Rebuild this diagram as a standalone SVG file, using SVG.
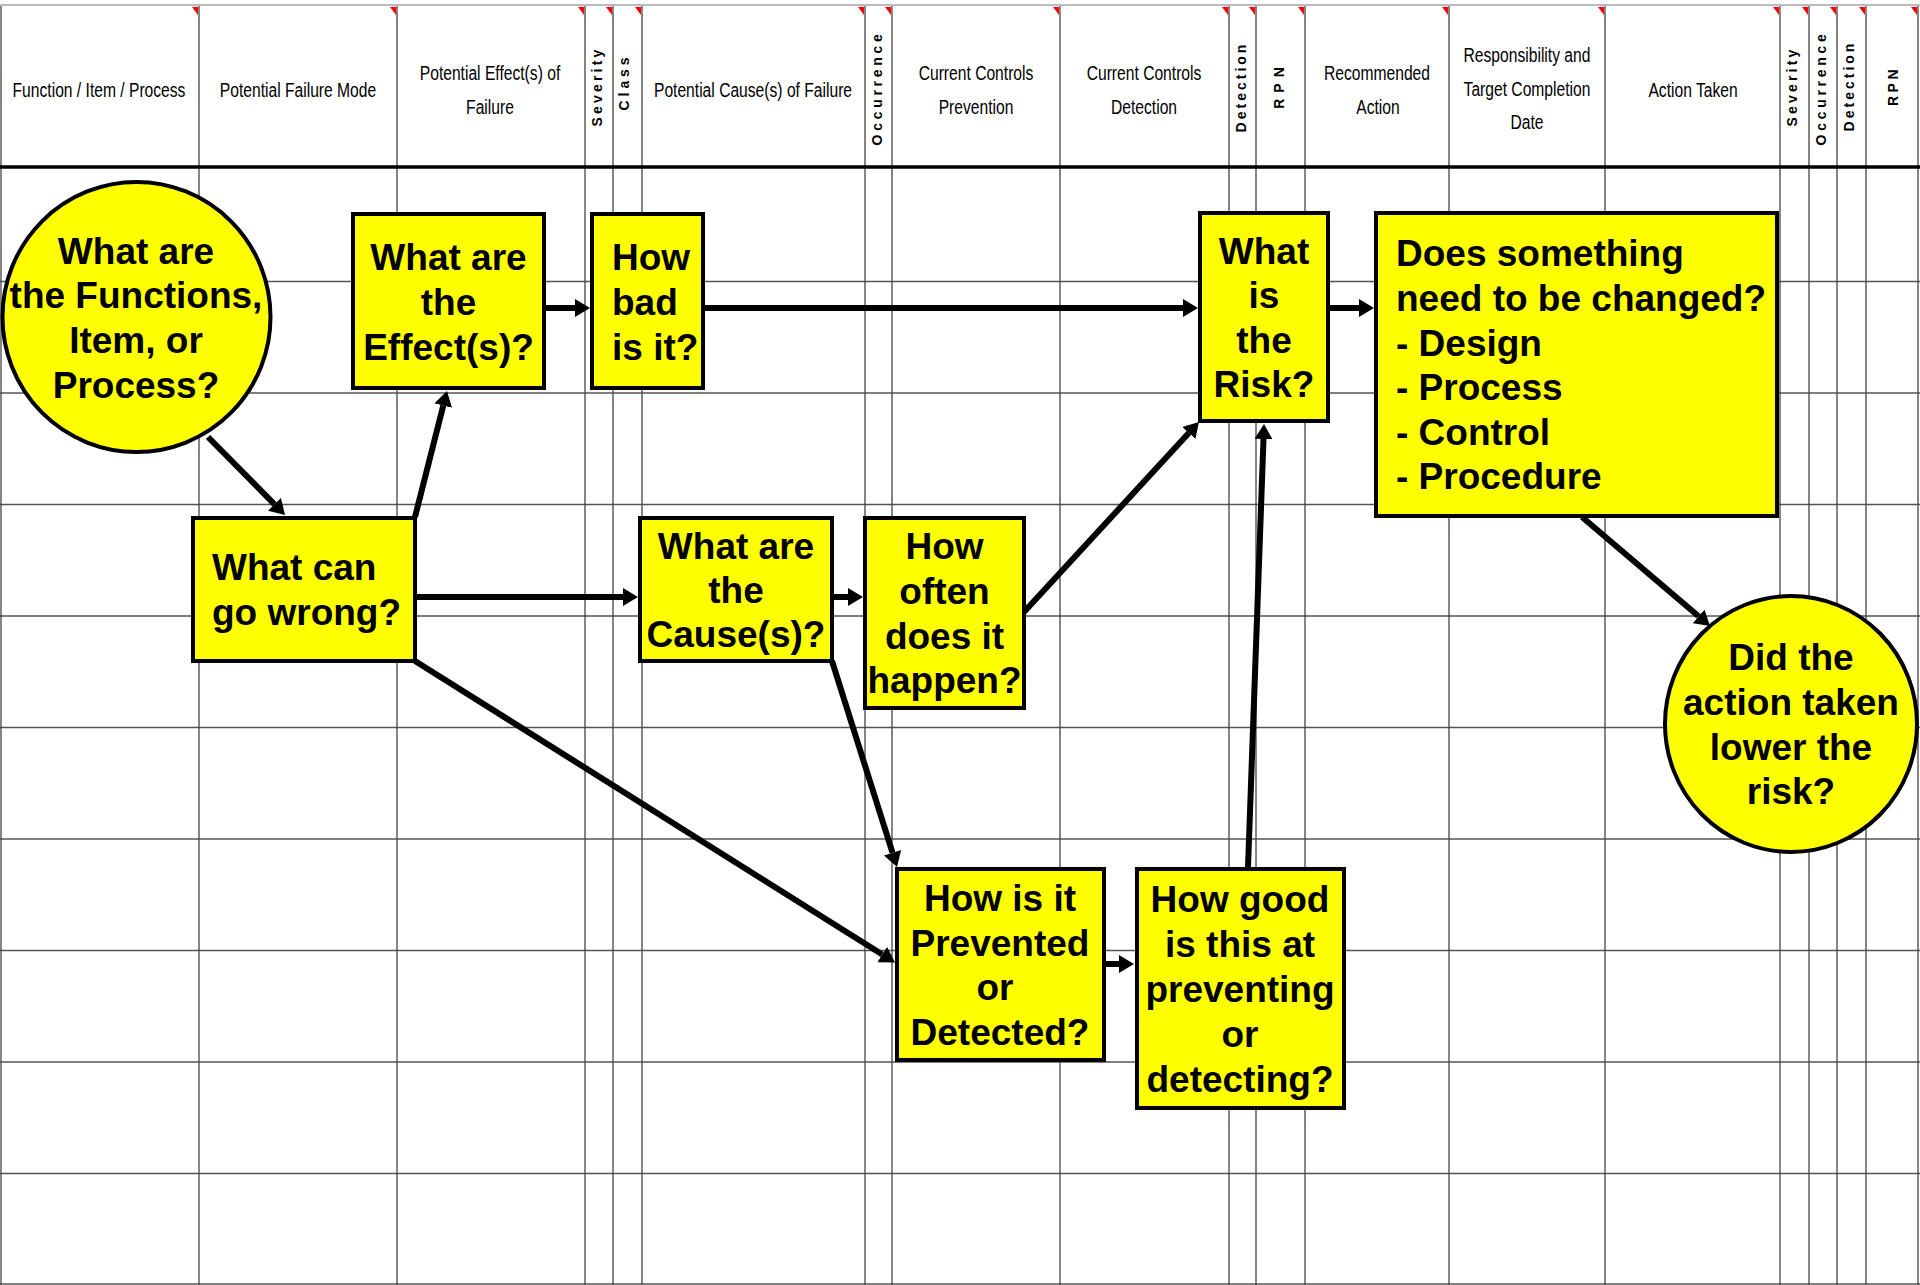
<svg xmlns="http://www.w3.org/2000/svg" width="1920" height="1285" viewBox="0 0 1920 1285">
  <style>
    .hdr { font-family: "Liberation Sans", Arial, sans-serif; font-size: 21px; fill: #000; text-anchor: middle; }
    .vhdr { font-family: "Liberation Sans", Arial, sans-serif; font-size: 14px; font-weight: bold; fill: #000; text-anchor: middle; }
    .q { font-family: "Liberation Sans", Arial, sans-serif; font-size: 37px; font-weight: bold; fill: #000; }
    .mid { text-anchor: middle; }
    .node { fill: #ffff00; stroke: #000; stroke-width: 4; }
    .hline { stroke: #555; stroke-width: 1.6; }
    .vline { stroke: #444; stroke-width: 1.3; }
    .flag { fill: #ff0000; }
    .conn { stroke: #000; stroke-width: 6; fill: none; marker-end: url(#head); }
  </style>
  <defs>
    <marker id="head" markerUnits="userSpaceOnUse" markerWidth="15" markerHeight="18" refX="0" refY="9" orient="auto">
      <path d="M0,0 L15,9 L0,18 Z" fill="#000"/>
    </marker>
  </defs>

  <rect x="0" y="0" width="1920" height="1285" fill="#fff"/>

  <!-- worksheet grid -->
  <g id="grid">
    <line x1="0" y1="5" x2="1920" y2="5" stroke="#bbb" stroke-width="2"/>
    <g class="hline">
      <line x1="0" y1="281.5" x2="1920" y2="281.5"/>
      <line x1="0" y1="393" x2="1920" y2="393"/>
      <line x1="0" y1="504.5" x2="1920" y2="504.5"/>
      <line x1="0" y1="616" x2="1920" y2="616"/>
      <line x1="0" y1="727.5" x2="1920" y2="727.5"/>
      <line x1="0" y1="839" x2="1920" y2="839"/>
      <line x1="0" y1="950.5" x2="1920" y2="950.5"/>
      <line x1="0" y1="1062" x2="1920" y2="1062"/>
      <line x1="0" y1="1173.5" x2="1920" y2="1173.5"/>
      <line x1="0" y1="1284" x2="1920" y2="1284"/>
    </g>
    <g class="vline">
      <line x1="1" y1="6" x2="1" y2="1285"/>
      <line x1="199" y1="6" x2="199" y2="1285"/>
      <line x1="397" y1="6" x2="397" y2="1285"/>
      <line x1="585" y1="6" x2="585" y2="1285"/>
      <line x1="613" y1="6" x2="613" y2="1285"/>
      <line x1="642" y1="6" x2="642" y2="1285"/>
      <line x1="865" y1="6" x2="865" y2="1285"/>
      <line x1="892" y1="6" x2="892" y2="1285"/>
      <line x1="1060" y1="6" x2="1060" y2="1285"/>
      <line x1="1229" y1="6" x2="1229" y2="1285"/>
      <line x1="1256" y1="6" x2="1256" y2="1285"/>
      <line x1="1305" y1="6" x2="1305" y2="1285"/>
      <line x1="1449" y1="6" x2="1449" y2="1285"/>
      <line x1="1605" y1="6" x2="1605" y2="1285"/>
      <line x1="1780" y1="6" x2="1780" y2="1285"/>
      <line x1="1809" y1="6" x2="1809" y2="1285"/>
      <line x1="1837" y1="6" x2="1837" y2="1285"/>
      <line x1="1866" y1="6" x2="1866" y2="1285"/>
      <line x1="1918" y1="6" x2="1918" y2="1285"/>
    </g>
    <line x1="0" y1="167" x2="1920" y2="167" stroke="#000" stroke-width="3.5"/>
    <!-- comment indicators -->
    <g class="flag">
      <polygon points="192,7 198,7 198,15"/>
      <polygon points="390,7 396,7 396,15"/>
      <polygon points="578,7 584,7 584,15"/>
      <polygon points="606,7 612,7 612,15"/>
      <polygon points="635,7 641,7 641,15"/>
      <polygon points="858,7 864,7 864,15"/>
      <polygon points="885,7 891,7 891,15"/>
      <polygon points="1053,7 1059,7 1059,15"/>
      <polygon points="1222,7 1228,7 1228,15"/>
      <polygon points="1249,7 1255,7 1255,15"/>
      <polygon points="1298,7 1304,7 1304,15"/>
      <polygon points="1442,7 1448,7 1448,15"/>
      <polygon points="1598,7 1604,7 1604,15"/>
      <polygon points="1773,7 1779,7 1779,15"/>
      <polygon points="1802,7 1808,7 1808,15"/>
      <polygon points="1830,7 1836,7 1836,15"/>
      <polygon points="1859,7 1865,7 1865,15"/>
      <polygon points="1911,7 1917,7 1917,15"/>
    </g>
  </g>

  <!-- column headings (condensed) -->
  <g id="headings">
    <text class="hdr" transform="translate(99,97) scale(0.745,1)">Function / Item / Process</text>
    <text class="hdr" transform="translate(298,97) scale(0.745,1)">Potential Failure Mode</text>
    <text class="hdr" transform="translate(490,80) scale(0.745,1)">Potential Effect(s) of</text>
    <text class="hdr" transform="translate(490,114) scale(0.745,1)">Failure</text>
    <text class="hdr" transform="translate(753,97) scale(0.745,1)">Potential Cause(s) of Failure</text>
    <text class="hdr" transform="translate(976,80) scale(0.745,1)">Current Controls</text>
    <text class="hdr" transform="translate(976,114) scale(0.745,1)">Prevention</text>
    <text class="hdr" transform="translate(1144,80) scale(0.745,1)">Current Controls</text>
    <text class="hdr" transform="translate(1144,114) scale(0.745,1)">Detection</text>
    <text class="hdr" transform="translate(1377,80) scale(0.745,1)">Recommended</text>
    <text class="hdr" transform="translate(1378,114) scale(0.745,1)">Action</text>
    <text class="hdr" transform="translate(1527,62) scale(0.745,1)">Responsibility and</text>
    <text class="hdr" transform="translate(1527,95.5) scale(0.745,1)">Target Completion</text>
    <text class="hdr" transform="translate(1527,129) scale(0.745,1)">Date</text>
    <text class="hdr" transform="translate(1693,97) scale(0.745,1)">Action Taken</text>

    <text class="vhdr" transform="translate(602,86.5) rotate(-90)" letter-spacing="3.2">Severity</text>
    <text class="vhdr" transform="translate(629,82) rotate(-90)" letter-spacing="3.9">Class</text>
    <text class="vhdr" transform="translate(882,88) rotate(-90)" letter-spacing="3.7">Occurrence</text>
    <text class="vhdr" transform="translate(1246,87) rotate(-90)" letter-spacing="3">Detection</text>
    <text class="vhdr" transform="translate(1283.5,85) rotate(-90)" letter-spacing="6">RPN</text>
    <text class="vhdr" transform="translate(1797,86.5) rotate(-90)" letter-spacing="3.2">Severity</text>
    <text class="vhdr" transform="translate(1825.5,88) rotate(-90)" letter-spacing="3.7">Occurrence</text>
    <text class="vhdr" transform="translate(1853.5,86) rotate(-90)" letter-spacing="3">Detection</text>
    <text class="vhdr" transform="translate(1897.5,86) rotate(-90)" letter-spacing="3.5">RPN</text>
  </g>

  <!-- question nodes -->
  <g id="functions">
    <ellipse class="node" cx="136.5" cy="317" rx="134" ry="135"/>
    <text class="q mid" x="136" y="264">What are</text>
    <text class="q mid" x="136" y="308">the Functions,</text>
    <text class="q mid" x="136" y="353">Item, or</text>
    <text class="q mid" x="136" y="398">Process?</text>
  </g>
  <g id="effects">
    <rect class="node" x="353" y="214" width="191" height="174"/>
    <text class="q mid" x="448.5" y="270">What are</text>
    <text class="q mid" x="448.5" y="315">the</text>
    <text class="q mid" x="448.5" y="360">Effect(s)?</text>
  </g>
  <g id="severity">
    <rect class="node" x="592" y="214" width="111" height="174"/>
    <text class="q" x="612" y="270">How</text>
    <text class="q" x="612" y="315">bad</text>
    <text class="q" x="612" y="360">is it?</text>
  </g>
  <g id="failure-mode">
    <rect class="node" x="193" y="518" width="222" height="143"/>
    <text class="q" x="212" y="580">What can</text>
    <text class="q" x="212" y="625">go wrong?</text>
  </g>
  <g id="causes">
    <rect class="node" x="640" y="518" width="192" height="143"/>
    <text class="q mid" x="736" y="559">What are</text>
    <text class="q mid" x="736" y="603">the</text>
    <text class="q mid" x="736" y="647">Cause(s)?</text>
  </g>
  <g id="occurrence">
    <rect class="node" x="865" y="518" width="159" height="190"/>
    <text class="q mid" x="944.5" y="559">How</text>
    <text class="q mid" x="944.5" y="604">often</text>
    <text class="q mid" x="944.5" y="649">does it</text>
    <text class="q mid" x="944.5" y="693">happen?</text>
  </g>
  <g id="controls">
    <rect class="node" x="897" y="869" width="207" height="191"/>
    <text class="q mid" x="1000" y="911">How is it</text>
    <text class="q mid" x="1000" y="956">Prevented</text>
    <text class="q mid" x="995" y="1000">or</text>
    <text class="q mid" x="1000" y="1045">Detected?</text>
  </g>
  <g id="detection">
    <rect class="node" x="1137" y="869" width="207" height="239"/>
    <text class="q mid" x="1240" y="912">How good</text>
    <text class="q mid" x="1240" y="957">is this at</text>
    <text class="q mid" x="1240" y="1002">preventing</text>
    <text class="q mid" x="1240" y="1047">or</text>
    <text class="q mid" x="1240" y="1092">detecting?</text>
  </g>
  <g id="risk">
    <rect class="node" x="1200" y="213" width="128" height="208"/>
    <text class="q mid" x="1264" y="264">What</text>
    <text class="q mid" x="1264" y="308">is</text>
    <text class="q mid" x="1264" y="353">the</text>
    <text class="q mid" x="1264" y="397">Risk?</text>
  </g>
  <g id="recommended-action">
    <rect class="node" x="1376" y="213" width="401" height="303"/>
    <text class="q" x="1396" y="266">Does something</text>
    <text class="q" x="1396" y="311">need to be changed?</text>
    <text class="q" x="1396" y="356">- Design</text>
    <text class="q" x="1396" y="400">- Process</text>
    <text class="q" x="1396" y="445">- Control</text>
    <text class="q" x="1396" y="489">- Procedure</text>
  </g>
  <g id="action-result">
    <ellipse class="node" cx="1791" cy="724" rx="126" ry="128"/>
    <text class="q mid" x="1791" y="670">Did the</text>
    <text class="q mid" x="1791" y="715">action taken</text>
    <text class="q mid" x="1791" y="760">lower the</text>
    <text class="q mid" x="1791" y="804">risk?</text>
  </g>

  <!-- connectors -->
  <g id="connectors">
    <line class="conn" x1="208" y1="437" x2="274.5" y2="504.3"/>
    <line class="conn" x1="415" y1="517" x2="443.3" y2="405.5"/>
    <line class="conn" x1="545" y1="308" x2="575" y2="308"/>
    <line class="conn" x1="704" y1="308" x2="1183" y2="308"/>
    <line class="conn" x1="1329" y1="308" x2="1359" y2="308"/>
    <line class="conn" x1="416" y1="597" x2="623" y2="597"/>
    <line class="conn" x1="833" y1="597" x2="848" y2="597"/>
    <line class="conn" x1="1024" y1="612" x2="1188.8" y2="433"/>
    <line class="conn" x1="832" y1="661" x2="892.5" y2="852.7"/>
    <line class="conn" x1="415" y1="661" x2="882.3" y2="954.5"/>
    <line class="conn" x1="1105" y1="964" x2="1119" y2="964"/>
    <line class="conn" x1="1248" y1="867" x2="1263.5" y2="439"/>
    <line class="conn" x1="1582" y1="517" x2="1698.6" y2="616.3"/>
  </g>
</svg>
